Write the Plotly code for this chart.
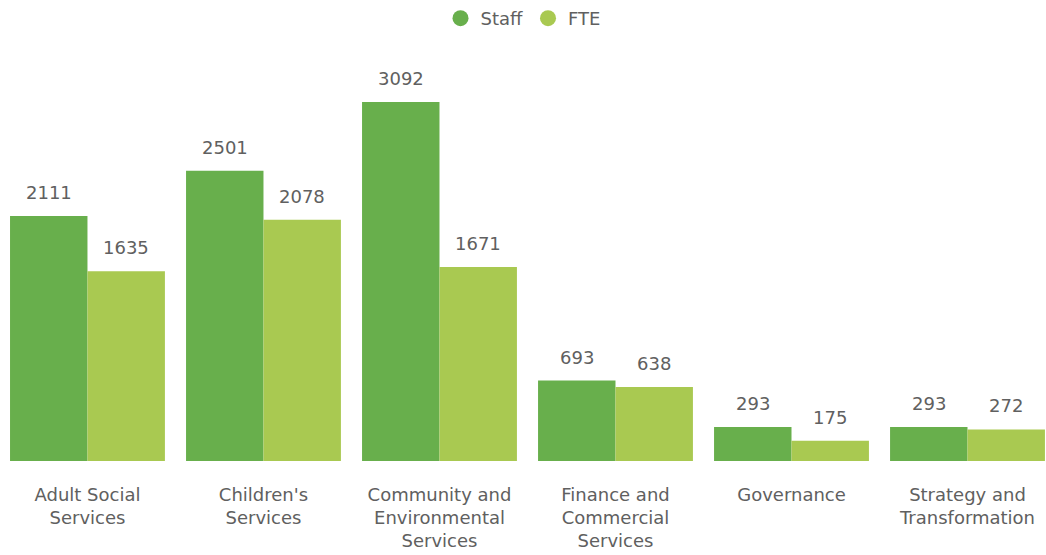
import plotly.graph_objects as go

# Headcount and full-time-equivalent by directorate
categories = [
    "Adult Social<br>Services",
    "Children's<br>Services",
    "Community and<br>Environmental<br>Services",
    "Finance and<br>Commercial<br>Services",
    "Governance",
    "Strategy and<br>Transformation",
]
staff = [2111, 2501, 3092, 693, 293, 293]
fte = [1635, 2078, 1671, 638, 175, 272]

STAFF_COLOR = "#68AF4C"
FTE_COLOR = "#A9C951"
TEXT_COLOR = "#606060"
FONT = "DejaVu Sans"

fig = go.Figure()
fig.add_trace(go.Bar(x=categories, y=staff, name="Staff", marker_color=STAFF_COLOR,
                     marker_line_width=0, showlegend=False))
fig.add_trace(go.Bar(x=categories, y=fte, name="FTE", marker_color=FTE_COLOR,
                     marker_line_width=0, showlegend=False))

# round legend swatches
for name, color in [("Staff", STAFF_COLOR), ("FTE", FTE_COLOR)]:
    fig.add_trace(go.Scatter(x=[None], y=[None], mode="markers", name=name,
                             marker=dict(symbol="circle", size=16, color=color)))

# value labels above each bar
bargap = 0.12
half = (1 - bargap) / 4
annotations = []
for i in range(len(categories)):
    for val, off in [(staff[i], -half), (fte[i], half)]:
        annotations.append(dict(
            x=i + off, y=val, xref="x", yref="y", text=str(val),
            showarrow=False, yanchor="bottom", yshift=11,
            font=dict(family=FONT, size=18, color=TEXT_COLOR),
        ))

fig.update_layout(
    width=1046, height=555,
    margin=dict(l=0, r=0, t=60, b=94),
    paper_bgcolor="white", plot_bgcolor="white",
    barmode="group", bargap=bargap, bargroupgap=0,
    font=dict(family=FONT, color=TEXT_COLOR),
    legend=dict(orientation="h", x=0.5, xanchor="center", y=1.0, yref="container",
                yanchor="top", font=dict(family=FONT, size=18, color=TEXT_COLOR),
                itemwidth=30, tracegroupgap=0),
    annotations=annotations,
    xaxis=dict(range=[-0.497, 5.446], showgrid=False, showline=False, zeroline=False,
               ticks="outside", ticklen=17, tickcolor="rgba(0,0,0,0)",
               tickfont=dict(family=FONT, size=18, color=TEXT_COLOR)),
    yaxis=dict(range=[0, 3454], visible=False, showgrid=False),
)

fig.write_html("out.html")
